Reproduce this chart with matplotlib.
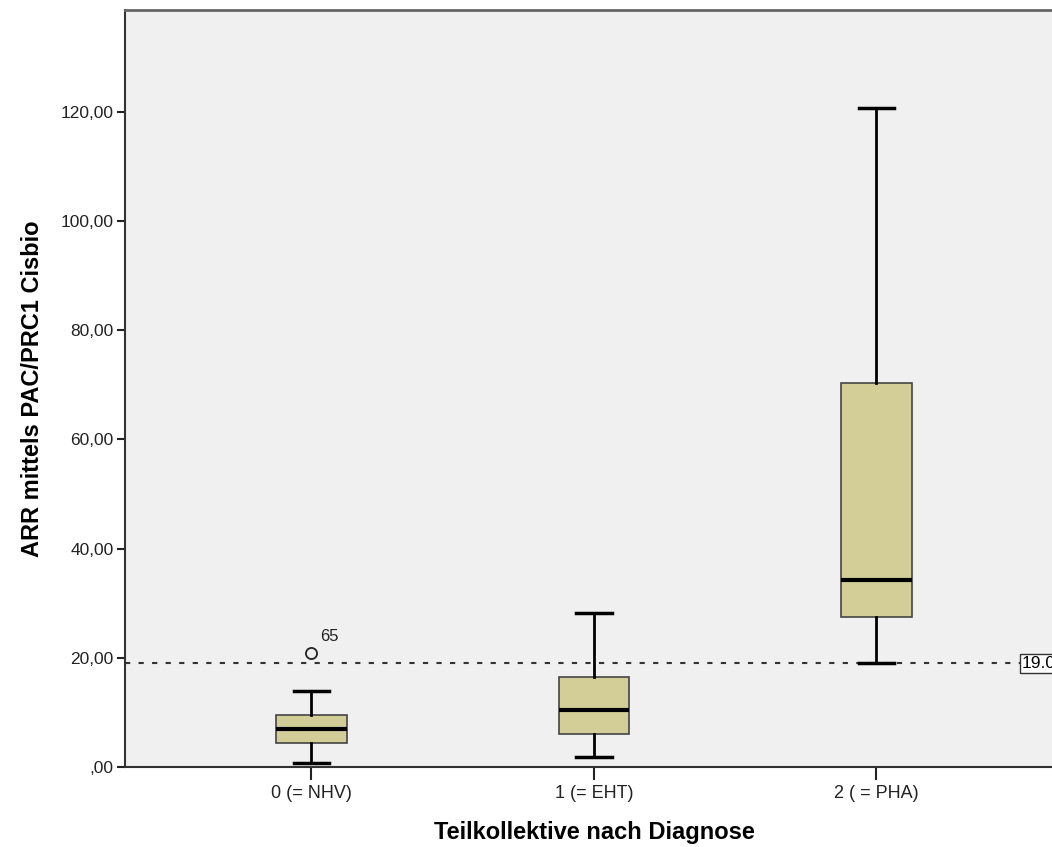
import matplotlib.pyplot as plt
from matplotlib.ticker import FuncFormatter

plt.rcParams['font.family'] = ['Liberation Sans', 'DejaVu Sans']

# Boxplot summary per diagnosis group
groups = ['0 (= NHV)', '1 (= EHT)', '2 ( = PHA)']
whislo = [0.7, 1.8, 19.0]
q1 = [4.3, 6.0, 27.5]
med = [6.9, 10.4, 34.2]
q3 = [9.6, 16.4, 70.3]
whishi = [14.0, 28.2, 120.7]
fliers = [[20.8], [], []]
flier_ids = [['65'], [], []]
cutoff = 19.0

stats = []
for i, g in enumerate(groups):
    stats.append(dict(label=g, whislo=whislo[i], q1=q1[i], med=med[i],
                      q3=q3[i], whishi=whishi[i], fliers=fliers[i]))

fig = plt.figure(figsize=(10.52, 8.47), dpi=100)
ax = fig.add_axes([0.1188, 0.0945, 0.8916, 0.8938])
ax.set_facecolor('#f0f0f0')

ax.axhline(cutoff, color='#333333', lw=1.5, ls=(0, (2.5, 4)), zorder=1)

ax.bxp(stats, positions=[1, 2, 3], widths=0.25, patch_artist=True,
       boxprops=dict(facecolor='#d3ce98', edgecolor='#444444', lw=1.2),
       medianprops=dict(color='black', lw=3),
       whiskerprops=dict(color='black', lw=2),
       capprops=dict(color='black', lw=2.5),
       capwidths=0.125,
       flierprops=dict(marker='o', markerfacecolor='none', markeredgecolor='#222222',
                       markersize=8, markeredgewidth=1.3),
       zorder=3)

# case number next to the outlier
for i, pts in enumerate(fliers):
    for v, lab in zip(pts, flier_ids[i]):
        ax.annotate(lab, (i + 1, v), xytext=(6, 9), textcoords='offset points',
                    fontsize=12, color='#222222')

ax.text(3.515, cutoff, '19.0', fontsize=12.5, va='center', ha='left',
        bbox=dict(boxstyle='square,pad=0.12', facecolor='white', edgecolor='#333333', lw=1),
        clip_on=False, zorder=5)

ax.set_xlim(0.34, 3.66)
ax.set_ylim(0, 138.7)
ax.set_yticks([0, 20, 40, 60, 80, 100, 120])
ax.yaxis.set_major_formatter(FuncFormatter(
    lambda v, p: ',00' if v == 0 else f'{v:.2f}'.replace('.', ',')))

ax.tick_params(axis='y', direction='out', length=6, width=1.5, labelsize=12.5,
               colors='#222222', pad=2)
ax.tick_params(axis='x', direction='out', length=9, width=1.5, labelsize=13,
               colors='#222222', pad=4)

ax.spines['left'].set_color('#333333')
ax.spines['bottom'].set_color('#333333')
ax.spines['top'].set_color('#666666')
ax.spines['left'].set_linewidth(1.5)
ax.spines['bottom'].set_linewidth(1.5)
ax.spines['top'].set_linewidth(2)

ax.set_xlabel('Teilkollektive nach Diagnose', fontsize=17, fontweight='bold', labelpad=14)
ax.set_ylabel('ARR mittels PAC/PRC1 Cisbio', fontsize=17, fontweight='bold', labelpad=12)

fig.savefig('out.png', dpi=100)
